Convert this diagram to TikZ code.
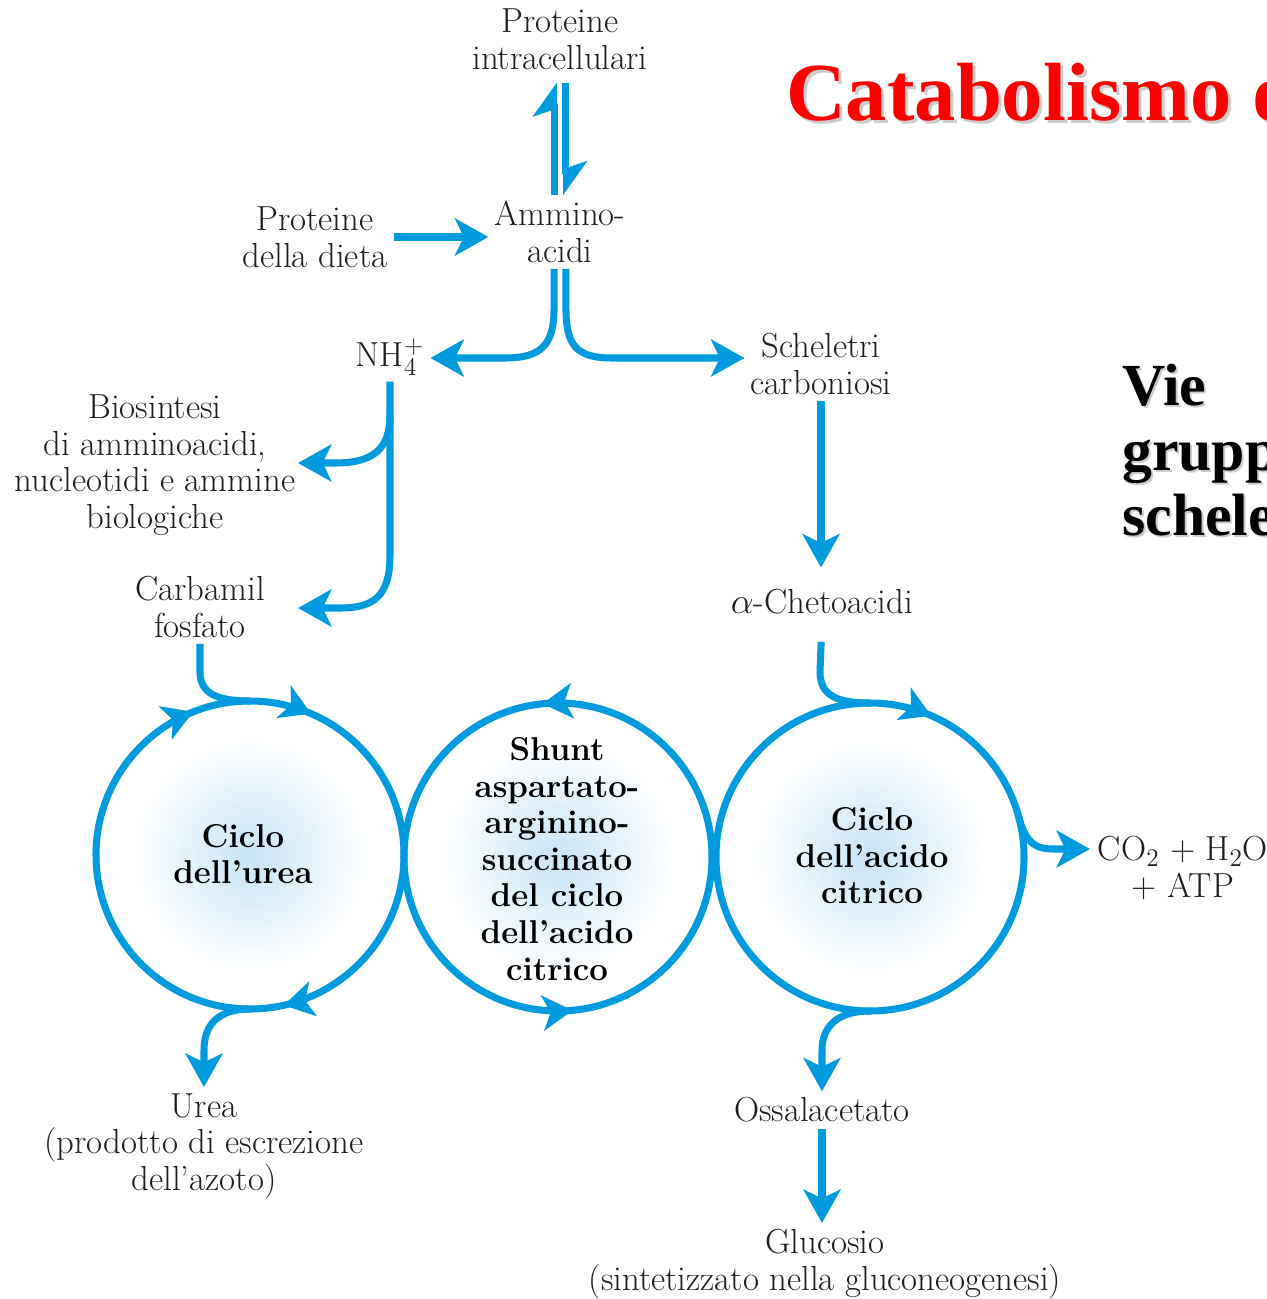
\documentclass[tikz,border=0pt]{standalone}
\usepackage{fontspec}
\newfontfamily\titolofont{Liberation Serif}
\usetikzlibrary{arrows.meta,decorations.markings,positioning}

\definecolor{azzurro}{RGB}{0,155,222}
\definecolor{alone}{RGB}{200,228,246}
\definecolor{grigiotesto}{RGB}{30,30,30}

\tikzset{
  flow/.style={draw=azzurro, line width=4pt},
  voce/.style={align=center, text=grigiotesto, font=\fontsize{19.8}{20.8}\selectfont},
  ciclo/.style={align=center, font=\fontsize{18.8}{20.8}\selectfont\bfseries},
  titolo/.style={anchor=base west, inner sep=0pt, font=\titolofont\fontsize{47}{50}\selectfont\bfseries},
  sottotitolo/.style={anchor=base west, inner sep=0pt, font=\titolofont\fontsize{34}{37}\selectfont\bfseries},
  piccola/.tip={Stealth[length=17pt,width=20pt,inset=4.5pt]},
  arpione/.tip={Stealth[harpoon,length=17pt,width=24pt,inset=4pt]}
}

\begin{document}
\begin{tikzpicture}[x=0.02cm, y=0.02cm, >={Stealth[length=19pt,width=21pt,inset=5pt]}]
\useasboundingbox (0,0) rectangle (1267,-1299);

% titoli
\node[titolo, text=black!20] at (789,-123) {Catabolismo d};
\node[titolo, text=red] (titolo) at (786,-120) {Catabolismo d};
\foreach \riga/\testo in {405/Vie, 470/grupp, 535/schele} {
  \node[sottotitolo, text=black!20] at (1124,-\riga-2) {\testo};
  \node[sottotitolo] (sub-\testo) at (1122,-\riga) {\testo};
}

% cicli
\coordinate (U) at (250,-855);
\coordinate (S) at (558,-857);
\coordinate (K) at (870,-857);
\foreach \c in {U,S,K}
  \shade[inner color=alone, outer color=white] (\c) circle[radius=120];

\draw[flow, postaction={decorate}, decoration={markings,
    mark=at position 0.185 with {\arrowreversed{piccola}},
    mark=at position 0.31 with {\arrowreversed{piccola}},
    mark=at position 0.785 with {\arrowreversed{piccola}}}] (U) circle[radius=154];
\draw[flow, postaction={decorate}, decoration={markings,
    mark=at position 0.266 with {\arrow{piccola}},
    mark=at position 0.765 with {\arrow{piccola}}}] (S) circle[radius=154];
\draw[flow, postaction={decorate}, decoration={markings,
    mark=at position 0.185 with {\arrowreversed{piccola}}}] (K) circle[radius=154];

\coordinate (U-in) at (250,-701);
\coordinate (U-out) at (250,-1009);
\coordinate (K-in) at (870,-703);
\coordinate (K-out) at (870,-1011);
\coordinate (K-co2) at (1018,-815);

% testi
\node[voce] (protint) at (560,-39) {Proteine\\intracellulari};
\node[voce] (ammino) at (560,-232) {Ammino-\\acidi};
\node[voce] (dieta) at (315,-237) {Proteine\\della dieta};
\node[voce] (nh4) at (390,-357) {NH$_4^+$};
\node[voce] (schel) at (821,-364) {Scheletri\\carboniosi};
\node[voce] (bios) at (155,-465) {Biosintesi\\di amminoacidi,\\nucleotidi e ammine\\biologiche};
\node[voce] (carb) at (200,-607) {Carbamil\\fosfato};
\node[voce] (cheto) at (822,-602) {$\alpha$-Chetoacidi};
\node[voce] (co2) at (1183,-868) {CO$_2$ + H$_2$O\\+ ATP};
\node[voce] (ureaprod) at (204,-1146) {Urea\\(prodotto di escrezione\\dell'azoto)};
\node[voce] (ossal) at (822,-1110) {Ossalacetato};
\node[voce] (gluc) at (825,-1264) {Glucosio\\(sintetizzato nella gluconeogenesi)};

\node[ciclo] (urea) at (243,-854) {Ciclo\\dell'urea};
\node[ciclo] (shunt) at (557,-859) {Shunt\\aspartato-\\arginino-\\succinato\\del ciclo\\dell'acido\\citrico};
\node[ciclo] (citrico) at (872,-856) {Ciclo\\dell'acido\\citrico};

\coordinate (nh4-ramo) at (390,-415);
\coordinate (bios-in) at (298,-463);
\coordinate (carb-in) at (298,-608);
\coordinate (co2-in) at (1090,-849);

% frecce
\draw[flow, -arpione, shorten >=4pt] ([xshift=-3.4pt]ammino.north) -- ([xshift=-3.4pt]protint.south);
\draw[flow, -arpione, shorten <=4pt] ([xshift=3.4pt]protint.south) -- ([xshift=3.4pt]ammino.north);
\draw[flow, ->] (dieta.east) -- (dieta.east -| ammino.west);

\draw[flow, ->] ([xshift=-3.4pt]ammino.south) -- ++(0,-40)
  .. controls +(0,-36) and +(36,0) .. (505,-358) -- (nh4.east |- 505,-358);
\draw[flow, ->] ([xshift=3.4pt]ammino.south) -- ++(0,-40)
  .. controls +(0,-36) and +(-36,0) .. (612,-358) -- (schel.west |- 612,-358);
\draw[flow, ->, shorten >=9pt] (schel.south) -- (schel.south |- cheto.north);

\draw[flow, ->] (nh4.south) -- (390,-555)
  .. controls (390,-596) and (374,-608) .. (340,-608) -- (carb-in);
\draw[flow, ->] (nh4-ramo) .. controls (390,-450) and (372,-463) .. (335,-463) -- (bios-in);

\draw[flow] (carb.south) -- (200,-672) .. controls (200,-695) and (220,-701) .. (U-in);
\draw[flow, ->] (U-out) .. controls (218,-1009) and (204,-1025) .. (204,-1050) -- (ureaprod.north);

\draw[flow, shorten <=12pt] (cheto.south) -- (820,-672) .. controls (820,-697) and (840,-703) .. (K-in);
\draw[flow, ->] (K-out) .. controls (836,-1011) and (822,-1028) .. (822,-1050) -- (ossal.north);
\draw[flow, ->] (K-co2) .. controls (1026,-844) and (1035,-849) .. (1055,-849) -- (co2-in);
\draw[flow, ->] (ossal.south) -- (ossal.south |- gluc.north);
\end{tikzpicture}
\end{document}
